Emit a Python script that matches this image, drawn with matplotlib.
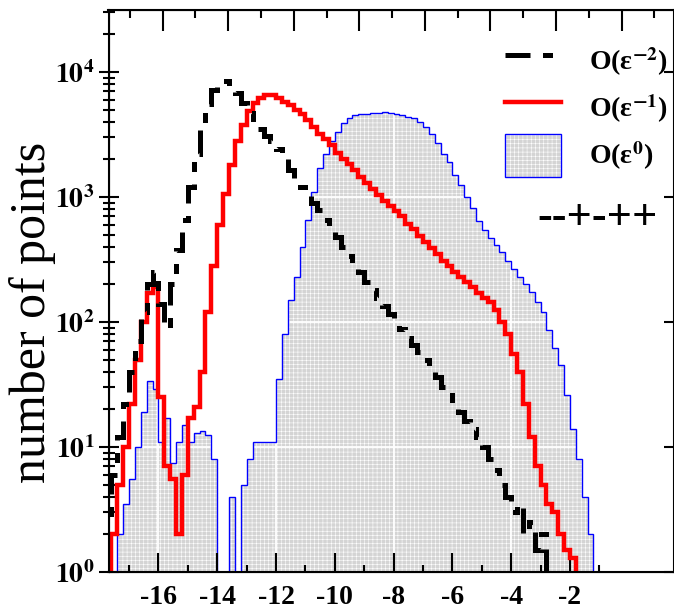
import numpy as np
import matplotlib.pyplot as plt
from matplotlib.lines import Line2D
from matplotlib.patches import Patch
from matplotlib.ticker import FixedLocator, FuncFormatter, LogLocator, NullFormatter

plt.rcParams['font.family'] = ['Liberation Serif', 'DejaVu Serif']
plt.rcParams['mathtext.fontset'] = 'stix'
plt.rcParams['axes.unicode_minus'] = False
plt.rcParams['hatch.linewidth'] = 0.4

# histogram binning (log10 of something), 0.2 wide bins starting at -17.8
bin_lo = -17.8
bin_w = 0.2

# O(eps^-2): black dashed
n_m2 = [2.5, 6, 12, 22, 40, 70, 120, 200, 250, 140,
        90, 200, 380, 650, 1200, 2200, 3500, 5500, 7200, 8000,
        8500, 8200, 6800, 5600, 4700, 4000, 3500, 3100, 2800, 2400,
        2000, 1650, 1400, 1200, 1050, 900, 780, 650, 560, 480,
        400, 340, 290, 250, 210, 180, 155, 135, 115, 100,
        88, 75, 65, 58, 50, 42, 36, 30, 26, 22,
        19, 16, 14, 12, 10, 8, 6.5, 5, 4, 3,
        3.5, 2, 2.5, 1.5, 2, 0, 0, 0, 0, 0,
        0, 0, 0, 0]

# O(eps^-1): red
n_m1 = [0, 2, 5, 10, 22, 50, 100, 170, 190, 25,
        7, 5.5, 2, 6, 17, 21, 40, 120, 280, 600,
        1050, 1800, 2800, 3800, 4900, 5700, 6200, 6500, 6500, 6200,
        5800, 5400, 5000, 4600, 4100, 3600, 3200, 2900, 2600, 2250,
        2000, 1850, 1650, 1450, 1300, 1150, 1040, 930, 850, 770,
        700, 610, 550, 490, 440, 390, 350, 310, 280, 250,
        230, 210, 190, 170, 155, 145, 125, 100, 80, 55,
        40, 22, 12, 7, 5, 3.5, 3, 2, 1.5, 1.3,
        0, 0, 0, 0]

# O(eps^0): grey filled
n_0 = [0, 0, 2, 3.5, 5.5, 10, 19, 34, 29, 11,
       17, 7.5, 11, 15, 11, 13, 13.5, 12.5, 8, 0,
       0, 4, 0, 5, 8, 11, 11, 11, 11, 35,
       80, 150, 230, 400, 650, 1100, 1700, 2200, 2800, 3300,
       3900, 4300, 4500, 4600, 4650, 4700, 4700, 4750, 4700, 4600,
       4500, 4400, 4300, 4000, 3600, 3200, 2700, 2200, 1900, 1500,
       1250, 1000, 820, 640, 540, 470, 410, 360, 310, 265,
       230, 200, 175, 145, 120, 86, 62, 45, 26, 14,
       8, 4, 2, 0]

x_ticks = [-16, -14, -12, -10, -8, -6, -4, -2]
x_minor = [-17, -15, -13, -11, -9, -7, -5, -3, -1]
grid_x = [-16, -12, -8, -4]
y_decades = [0, 1, 2, 3, 4]

edges = bin_lo + bin_w * np.arange(len(n_0) + 1)
floor = 0.1  # empty bins sit below the axis
grey = '#d4d4d4'
texture = '++++'


def on_log(v):
    v = np.asarray(v, dtype=float)
    return np.where(v > 0, v, floor)


fig = plt.figure(figsize=(6.74, 6.08), dpi=100)
ax = fig.add_axes([108.5 / 674, 36 / 608, (674 - 108.5) / 674, (572 - 9.5) / 608])
ax.set_yscale('log')

g = on_log(n_0)
ax.fill_between(edges, np.append(g, g[-1]), floor, step='post', facecolor=grey,
                edgecolor='white', hatch=texture, linewidth=0, zorder=0.5)
for gx in grid_x:
    ax.axvline(gx, color='white', lw=1.3, zorder=0.8)
for d in y_decades[1:-1]:
    ax.axhline(10.0 ** d, color='white', lw=1.3, zorder=0.8)
ax.stairs(g, edges, baseline=floor, color='blue', lw=1.0, zorder=1)
ax.stairs(on_log(n_m1), edges, baseline=floor, color='red', lw=3.2, zorder=2)
ax.stairs(on_log(n_m2), edges, baseline=floor, color='black', lw=3.6,
          linestyle=(0, (5, 2.5, 2, 2.5)), zorder=3)

ax.set_xlim(-17.7, 1.54)
ax.set_ylim(1, 10 ** 4.5)

ax.set_xticks(x_ticks)
ax.set_xticklabels([str(t) for t in x_ticks], fontsize=20, fontweight='bold')
ax.xaxis.set_minor_locator(FixedLocator(x_minor))
ax.tick_params(axis='x', which='major', direction='in', length=14, width=1.5, pad=9, top=False)
ax.tick_params(axis='x', which='minor', direction='in', length=5, width=1.5, top=False)

ax.yaxis.set_major_locator(FixedLocator([10.0 ** d for d in y_decades]))
ax.yaxis.set_major_formatter(FuncFormatter(lambda v, p: r'$\mathbf{10^{%d}}$' % round(np.log10(v))))
ax.yaxis.set_minor_locator(LogLocator(base=10, subs=np.arange(2, 10)))
ax.yaxis.set_minor_formatter(NullFormatter())
ax.tick_params(axis='y', which='major', direction='inout', length=14, width=1.5,
               labelsize=20, pad=3, right=True)
ax.tick_params(axis='y', which='minor', direction='inout', length=9, width=1.5, right=False)

for sp in ax.spines.values():
    sp.set_linewidth(1.5)

# top axis carries its own (unlabelled) tick spacing
ax_top = ax.twiny()
ax_top.set_xlim(-1.65, 15.6)
ax_top.set_xticks(np.arange(0, 16, 2))
ax_top.xaxis.set_minor_locator(FixedLocator(np.arange(-1, 16, 2)))
ax_top.tick_params(axis='x', which='major', direction='in', length=15, width=1.5, labeltop=False)
ax_top.tick_params(axis='x', which='minor', direction='in', length=6, width=1.5)

ax.set_ylabel('number of points', fontsize=36)
ax.yaxis.set_label_coords(-0.092, 0.462)

handles = [
    Line2D([], [], color='black', lw=3.6, linestyle=(0, (5, 2.5, 2, 2.5))),
    Line2D([], [], color='red', lw=3.2),
    (Patch(facecolor=grey, edgecolor='white', hatch=texture, lw=0),
     Patch(facecolor='none', edgecolor='blue', lw=1.0)),
]
labels = [r'O(ε$^{\mathbf{-2}}$)', r'O(ε$^{\mathbf{-1}}$)', r'O(ε$^{\mathbf{0}}$)']
ax.legend(handles, labels, loc='upper right', bbox_to_anchor=(0.988, 0.946), frameon=False,
          prop={'size': 20, 'weight': 'bold'}, handlelength=2.0, handleheight=2.0,
          labelspacing=0.15, handletextpad=1.0, borderpad=0, borderaxespad=0)

ax.text(0.864, 0.629, '--+-++', transform=ax.transAxes, ha='center', va='center',
        fontsize=32, fontweight='bold')

fig.savefig('out.png', dpi=100)
